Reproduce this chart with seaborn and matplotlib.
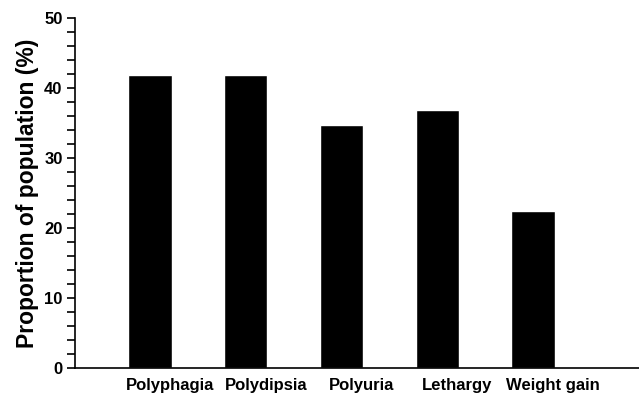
import numpy as np
import pandas as pd
import matplotlib
matplotlib.use("Agg")
import matplotlib.pyplot as plt
import matplotlib.transforms as mtransforms
import seaborn as sns
from matplotlib.ticker import MultipleLocator

# Data
symptoms = ["Polyphagia", "Polydipsia", "Polyuria", "Lethargy", "Weight gain"]
proportions = [41.9, 41.9, 34.8, 36.9, 22.5]
y_ticks = [0, 10, 20, 30, 40, 50]

df = pd.DataFrame({"symptom": symptoms, "proportion": proportions})

sns.set_style("ticks")
plt.rcParams['font.family'] = ['Liberation Sans', 'DejaVu Sans']
plt.rcParams['font.weight'] = 'bold'
plt.rcParams['text.color'] = 'black'
plt.rcParams['axes.labelcolor'] = 'black'
plt.rcParams['xtick.color'] = 'black'
plt.rcParams['ytick.color'] = 'black'

fig = plt.figure(figsize=(6.39, 3.96), dpi=100)
ax = fig.add_axes([0.1174, 0.07, 0.8826, 0.8838])

sns.barplot(data=df, x="symptom", y="proportion", color="black",
            width=0.45, saturation=1, ax=ax)

ax.set_xlim(-0.783, 5.107)
ax.set_ylim(0, 50)
ax.set_yticks(y_ticks)
ax.yaxis.set_minor_locator(MultipleLocator(2))

ax.set_xlabel("")
ax.set_ylabel("Proportion of population (%)", fontsize=16.5, fontweight='bold',
              labelpad=4)

ax.tick_params(axis='y', which='both', direction='out', length=6, width=1.2,
               color='black', labelsize=12, pad=3, labelcolor='black')
ax.tick_params(axis='x', length=0, labelsize=12, pad=7, labelcolor='black')

# category labels sit a little right of their bars in the original
shift = mtransforms.ScaledTranslation(0.2, 0, fig.dpi_scale_trans)
for lbl in ax.get_xticklabels():
    lbl.set_fontweight('bold')
    lbl.set_transform(lbl.get_transform() + shift)
for lbl in ax.get_yticklabels():
    lbl.set_fontweight('bold')

for side in ['top', 'right']:
    ax.spines[side].set_visible(False)
for side in ['left', 'bottom']:
    ax.spines[side].set_linewidth(1.2)
    ax.spines[side].set_color('black')

fig.savefig("out.png", dpi=100)
